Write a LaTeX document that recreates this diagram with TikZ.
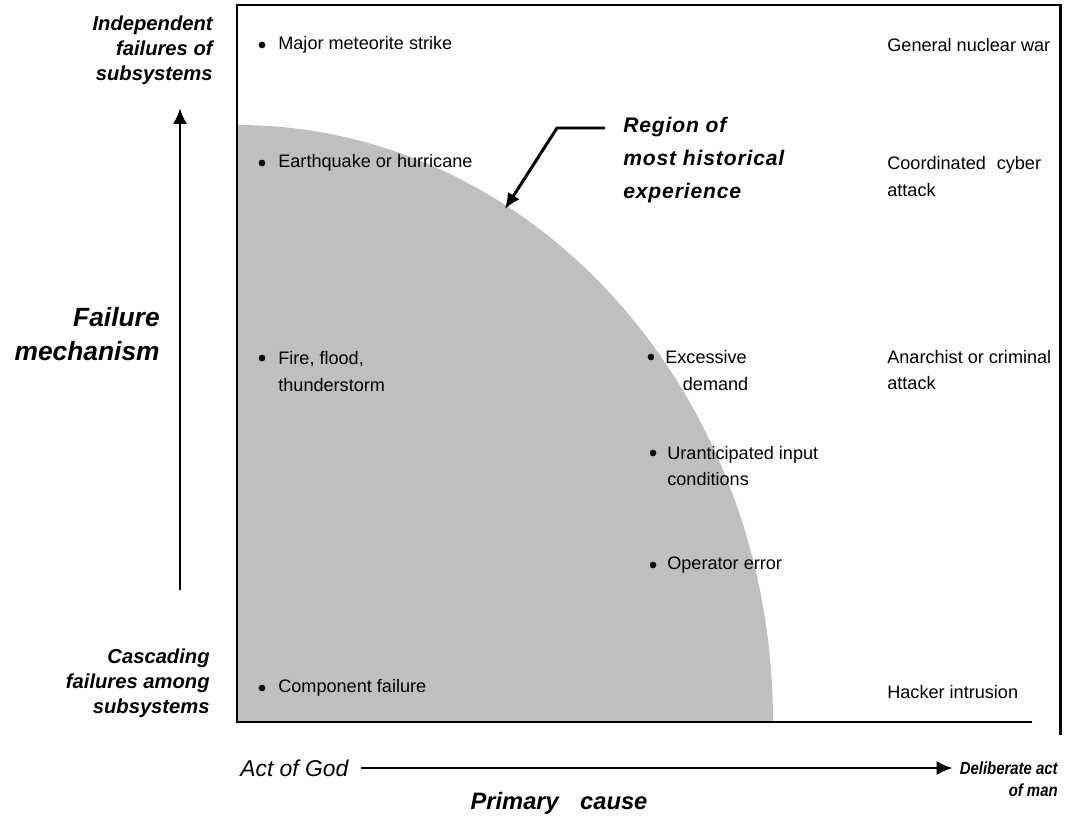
\documentclass[tikz,border=0pt]{standalone}
\usepackage{fontspec}
\setmainfont{Liberation Sans}
\usepackage{tikz}
\usetikzlibrary{arrows.meta, positioning}

\begin{document}
\begin{tikzpicture}[x=0.02cm, y=-0.02cm]
	\tikzstyle{event} = [anchor=west, align=left, inner sep=0pt, font=\fontsize{10.3}{15.2}\selectfont]
	\tikzstyle{dot} = [circle, fill=black, inner sep=0pt, minimum size=3.8pt]
	\tikzstyle{axislabel} = [anchor=east, align=right, inner sep=0pt, font=\fontsize{11.5}{14.2}\selectfont\bfseries\itshape]
	\tikzstyle{biglabel} = [inner sep=0pt, font=\fontsize{15}{19.8}\selectfont\bfseries\itshape]
	\tikzstyle{arrow} = [line width=1.7pt, -{Latex[length=9pt,width=8pt]}]
	
	\useasboundingbox (0,0) rectangle (1072,821);
	
	% Region and frame
	\fill [black!25] (237,125) arc [start angle=-90, end angle=0, x radius=536, y radius=597] -- (237,722) -- cycle;
	\draw [line width=1.7pt] (1032,722) -- (237,722) -- (237,5) -- (1060,5) -- (1060,735);
	
	% Nodes
	\node (d-meteor) [dot] at (262,45) {};
	\node (meteor) [event] at (278,45) {Major meteorite strike};
	\node (war) [event] at (887,45) {General nuclear war};
	
	\node (d-quake) [dot] at (262,163) {};
	\node (quake) [event] at (278,163) {Earthquake or hurricane};
	\node (cyber) [event] at (887,176.5) {Coordinated\hspace{0.6em}cyber\\attack};
	
	\node (d-fire) [dot] at (262,358) {};
	\node (fire) [event] at (278,371.5) {Fire, flood,\\thunderstorm};
	\node (d-demand) [dot] at (651,357) {};
	\node (demand) [event] at (665,370.5) {Excessive\\\hspace*{10pt}demand};
	\node (crime) [event] at (887,370) {Anarchist or criminal\\attack};
	
	\node (d-input) [dot] at (653,453) {};
	\node (input) [event] at (667,466) {Uranticipated input\\conditions};
	\node (d-oper) [dot] at (653,565) {};
	\node (oper) [event] at (667,565) {Operator error};
	
	\node (d-comp) [dot] at (262,688) {};
	\node (comp) [event] at (278,688) {Component failure};
	\node (hacker) [event] at (887,692) {Hacker intrusion};
	
	\node (region) [biglabel, anchor=west, align=left, font=\fontsize{12}{18.7}\selectfont\bfseries\itshape\addfontfeature{LetterSpace=4}] at (623,160) {Region of\\most historical\\experience};
	
	\node (indep) [axislabel] at (213,50) {Independent\\failures of\\subsystems};
	\node (mech) [biglabel, anchor=east, align=right] at (160,334) {Failure\\mechanism};
	\node (casc) [axislabel] at (210,683) {Cascading\\failures among\\subsystems};
	
	\node (god) [anchor=west, inner sep=0pt, font=\fontsize{13}{15}\selectfont\itshape] at (240,768) {Act of God};
	\node (dact) [axislabel, font=\fontsize{10}{12}\selectfont\bfseries\itshape, xscale=0.85, transform shape] at (1058,768) {Deliberate act};
	\node (ofman) [axislabel, font=\fontsize{10}{12}\selectfont\bfseries\itshape, xscale=0.85, transform shape] at (1058,790) {of man};
	\node (cause) [biglabel, font=\fontsize{13.5}{18}\selectfont\bfseries\itshape] at (559,803) {Primary\hspace{0.9em}cause};
	
	\coordinate (ybot) at (180,590);
	\coordinate (ytop) at (180,108);
	\coordinate (lstart) at (605,128);
	\coordinate (bend) at (557,128);
	\coordinate (tip) at (505,209);
	
	% Arrows
	\draw [arrow] (ybot) -- (ytop);
	\draw [line width=1.1pt, -{Latex[length=9pt,width=8pt]}, shorten <=7pt, shorten >=4pt] (god) -- (dact);
	\draw [arrow] (lstart) -- (bend) -- (tip);
	
\end{tikzpicture}
\end{document}
